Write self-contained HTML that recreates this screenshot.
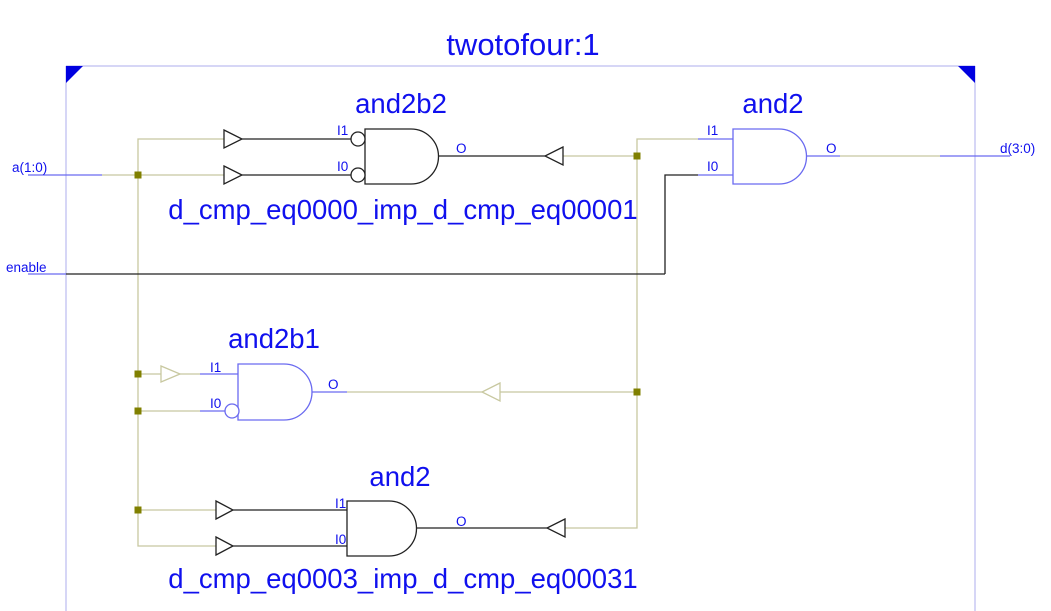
<!DOCTYPE html>
<html><head><meta charset="utf-8"><style>
html,body{margin:0;padding:0;background:#fff;}
svg{display:block;}
text{font-family:"Liberation Sans",Arial,sans-serif;fill:#1010ee;}
</style></head><body>
<svg width="1051" height="611" viewBox="0 0 1051 611" xmlns="http://www.w3.org/2000/svg">
<rect width="1051" height="611" fill="#fff"/>
<g stroke="#c8c8f4" stroke-width="1.5" fill="none">
<line x1="66" y1="66" x2="975" y2="66"/>
<line x1="66" y1="66" x2="66" y2="611"/>
<line x1="975" y1="66" x2="975" y2="611"/>
</g>
<polygon points="66,66 83,66 66,83" fill="#0000e0"/>
<polygon points="958,66 975,66 975,83" fill="#0000e0"/>
<text x="523" y="55" font-size="31" text-anchor="middle">twotofour:1</text>

<g stroke="#c8c8a0" stroke-width="1.3" fill="none">
<line x1="102" y1="175" x2="224" y2="175"/>
<polyline points="224,139 138,139 138,546 216,546"/>
<line x1="138" y1="374" x2="161" y2="374"/>
<line x1="180" y1="374" x2="200" y2="374"/>
<line x1="138" y1="411" x2="200" y2="411"/>
<line x1="138" y1="510" x2="216" y2="510"/>
<polyline points="563,156 637,156"/>
<polyline points="698,139 637,139 637,528 565,528"/>
<line x1="347" y1="392" x2="482" y2="392"/>
<line x1="500" y1="392" x2="637" y2="392"/>
<line x1="840" y1="156" x2="940" y2="156"/>
<polygon points="161,366 180,374 161,382"/>
<polygon points="500,383 482,392 500,401"/>
</g>
<g fill="#808000">
<rect x="134.5" y="171.5" width="7" height="7"/>
<rect x="134.5" y="370.5" width="7" height="7"/>
<rect x="134.5" y="407.5" width="7" height="7"/>
<rect x="134.5" y="506.5" width="7" height="7"/>
<rect x="633.5" y="152.5" width="7" height="7"/>
<rect x="633.5" y="388.5" width="7" height="7"/>
</g>

<g stroke="#6a6af0" stroke-width="1.3" fill="none">
<line x1="28" y1="175" x2="102" y2="175"/>
<line x1="28" y1="274" x2="66" y2="274"/>
<line x1="940" y1="156" x2="1010" y2="156"/>
<line x1="698" y1="139" x2="733" y2="139"/>
<line x1="698" y1="175" x2="733" y2="175"/>
<line x1="806" y1="156" x2="840" y2="156"/>
<line x1="200" y1="374" x2="238" y2="374"/>
<line x1="200" y1="411" x2="225" y2="411"/>
<line x1="312" y1="392" x2="347" y2="392"/>
<path d="M733,129 H779 A27.5,27.5 0 0 1 779,184 H733 Z"/>
<path d="M238,364 H284 A28,28 0 0 1 284,420 H238 Z"/>
<circle cx="232" cy="411" r="7" fill="#fff"/>
</g>

<g stroke="#222" stroke-width="1.3" fill="none">
<line x1="66" y1="274" x2="665" y2="274"/>
<polyline points="665,274 665,175 698,175"/>
<line x1="242" y1="139" x2="351" y2="139"/>
<line x1="242" y1="175" x2="351" y2="175"/>
<line x1="438" y1="156" x2="545" y2="156"/>
<path d="M365,129 H411 A27.5,27.5 0 0 1 411,184 H365 Z"/>
<circle cx="358" cy="139" r="7" fill="#fff"/>
<circle cx="358" cy="175" r="7" fill="#fff"/>
<polygon points="224,130 242,139 224,148" fill="#fff"/>
<polygon points="224,166 242,175 224,184" fill="#fff"/>
<polygon points="563,147 545,156 563,165" fill="#fff"/>
<line x1="233" y1="510" x2="347" y2="510"/>
<line x1="233" y1="546" x2="347" y2="546"/>
<line x1="417" y1="528" x2="547" y2="528"/>
<path d="M347,501 H389 A27.5,27.5 0 0 1 389,556 H347 Z"/>
<polygon points="216,501 233,510 216,519" fill="#fff"/>
<polygon points="216,537 233,546 216,555" fill="#fff"/>
<polygon points="565,519 547,528 565,537" fill="#fff"/>
</g>

<g font-size="13.5">
<text x="12" y="172">a(1:0)</text>
<text x="6" y="272">enable</text>
<text x="1000" y="153">d(3:0)</text>
<text x="337" y="135">I1</text><text x="337" y="171">I0</text><text x="456" y="153">O</text>
<text x="707" y="135">I1</text><text x="707" y="171">I0</text><text x="826" y="153">O</text>
<text x="210" y="372">I1</text><text x="210" y="408">I0</text><text x="328" y="389">O</text>
<text x="335" y="508">I1</text><text x="335" y="544">I0</text><text x="456" y="526">O</text>
</g>
<g font-size="27.5">
<text x="401" y="113" text-anchor="middle">and2b2</text>
<text x="403" y="219" text-anchor="middle">d_cmp_eq0000_imp_d_cmp_eq00001</text>
<text x="773" y="113" text-anchor="middle">and2</text>
<text x="274" y="348" text-anchor="middle">and2b1</text>
<text x="400" y="486" text-anchor="middle">and2</text>
<text x="403" y="588" text-anchor="middle">d_cmp_eq0003_imp_d_cmp_eq00031</text>
</g>
</svg>
</body></html>
